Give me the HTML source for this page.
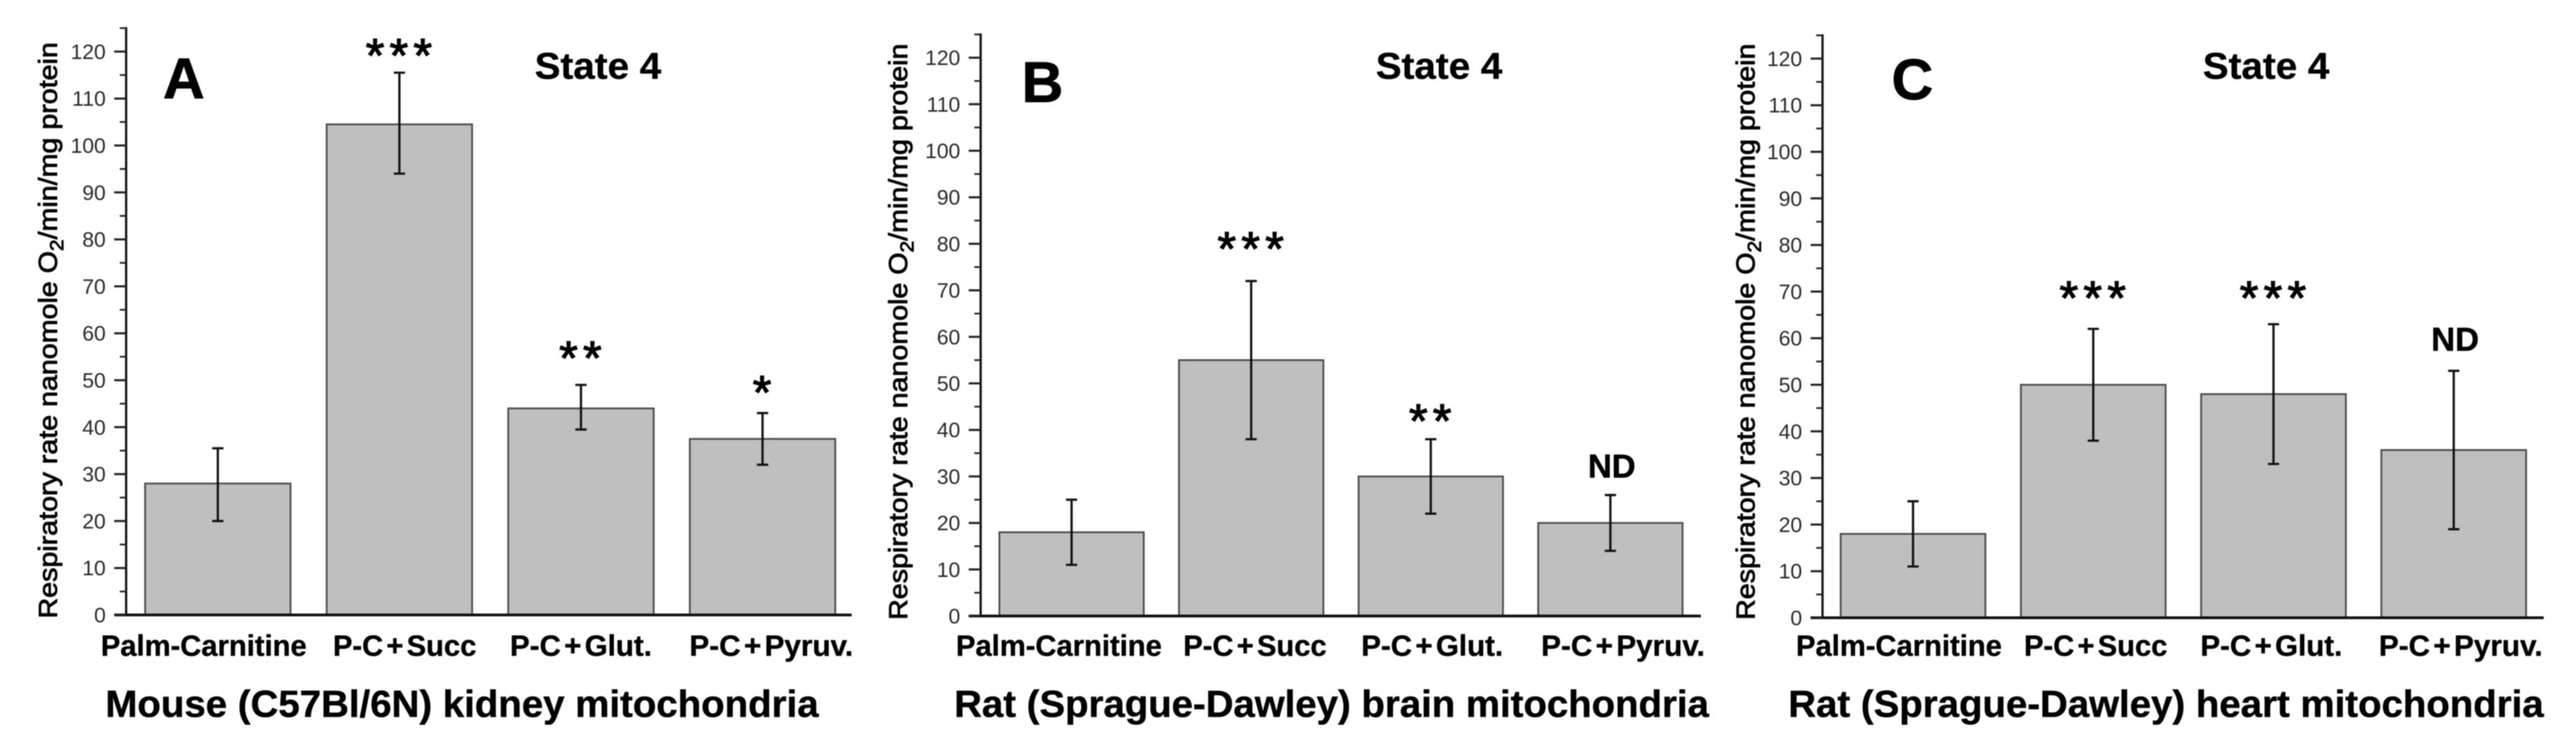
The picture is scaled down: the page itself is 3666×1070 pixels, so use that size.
<!DOCTYPE html>
<html>
<head>
<meta charset="utf-8">
<title>State 4 respiration</title>
<style>
html,body{margin:0;padding:0;background:#fff;width:3666px;height:1070px;overflow:hidden}
svg{display:block;filter:blur(0.8px)}
text{font-family:"Liberation Sans",sans-serif;fill:#000}
</style>
</head>
<body>
<svg id="chart" xmlns="http://www.w3.org/2000/svg" width="3666" height="1070" viewBox="0 0 3666 1070">
<rect width="3666" height="1070" fill="#fff"/>
</svg>
<script>
const categories = ['Palm-Carnitine', 'P-C + Succ', 'P-C + Glut.', 'P-C + Pyruv.'];
const yTickValues = [0, 10, 20, 30, 40, 50, 60, 70, 80, 90, 100, 110, 120];
const yMinorTickValues = [5, 15, 25, 35, 45, 55, 65, 75, 85, 95, 105, 115, 125];

const kidneyValues = [28, 104.5, 44, 37.5];
const kidneyErrLow = [20, 94, 39.5, 32];
const kidneyErrHigh = [35.5, 115.5, 49, 43];
const kidneySigLabels = ['', '***', '**', '*'];
const kidneySigLevels = [null, 120.5, 56.1, 48.7];

const brainValues = [18, 55, 30, 20];
const brainErrLow = [11, 38, 22, 14];
const brainErrHigh = [25, 72, 38, 26];
const brainSigLabels = ['', '***', '**', 'ND'];
const brainSigLevels = [null, 80.3, 43.3, 32.3];

const heartValues = [18, 50, 48, 36];
const heartErrLow = [11, 38, 33, 19];
const heartErrHigh = [25, 62, 63, 53];
const heartSigLabels = ['', '***', '***', 'ND'];
const heartSigLevels = [null, 70, 70, 59.9];

const NS = 'http://www.w3.org/2000/svg';
const svg = document.getElementById('chart');

function make(parent, tag, attrs, txt) {
  const el = document.createElementNS(NS, tag);
  for (const k in attrs) el.setAttribute(k, attrs[k]);
  if (txt !== undefined) el.textContent = txt;
  parent.appendChild(el);
  return el;
}

const catWidth = {'Palm-Carnitine': 293, 'P-C + Succ': 204, 'P-C + Glut.': 202, 'P-C + Pyruv.': 233};

function drawPanel(p, values, errLow, errHigh, sigLabels, sigLevels) {
  const g = make(svg, 'g', {});
  
  

  const yScale = v => p.zeroY - v * p.unit;
  const xScale = i => p.x0 + i * p.step;

  // bars
  values.forEach((v, i) => {
    const bar = make(g, 'rect', {x: xScale(i) - p.barW / 2, y: yScale(v), width: p.barW, height: p.zeroY - yScale(v), fill: '#bfbfbf', stroke: '#4a4a4a', 'stroke-width': 2.5});
    
    
  });

  // axes
  const yAxis = make(g, 'line', {x1: p.axisX, x2: p.axisX, y1: yScale(125) - 1.5, y2: p.zeroY, stroke: '#111', 'stroke-width': 3.2});
  
  
  const xAxis = make(g, 'line', {x1: p.axisX - 17, x2: p.axisEnd, y1: p.zeroY, y2: p.zeroY, stroke: '#111', 'stroke-width': 4});
  
  

  yTickValues.forEach(v => {
    const t = make(g, 'line', {x1: p.axisX - 17, x2: p.axisX, y1: yScale(v), y2: yScale(v), stroke: '#222', 'stroke-width': 3});
    
    
    const l = make(g, 'text', {x: p.axisX - 29, y: yScale(v) + 10.5, 'text-anchor': 'end', 'font-size': 30, style: 'fill:#2a2a2a'}, String(v));
    
    
  });
  yMinorTickValues.forEach(v => {
    const t = make(g, 'line', {x1: p.axisX - 9, x2: p.axisX, y1: yScale(v), y2: yScale(v), stroke: '#222', 'stroke-width': 2.5});
    
    
  });

  // error bars
  values.forEach((v, i) => {
    const x = xScale(i), hi = yScale(errHigh[i]), lo = yScale(errLow[i]);
    const eb = make(g, 'path', {d: 'M' + (x - 8) + ' ' + hi + 'H' + (x + 8) + 'M' + x + ' ' + hi + 'V' + lo + 'M' + (x - 8) + ' ' + lo + 'H' + (x + 8), fill: 'none', stroke: '#111', 'stroke-width': 3.2});
    
    
  });

  // significance labels
  sigLabels.forEach((s, i) => {
    if (!s) return;
    const y = yScale(sigLevels[i]);
    let t;
    if (s === 'ND') {
      t = make(g, 'text', {x: xScale(i) + 2, y: y + 17, 'text-anchor': 'middle', 'font-size': 47, 'font-weight': 'bold', stroke: '#000', 'stroke-width': 0.6}, s);
    } else {
      t = make(g, 'text', {x: xScale(i) + 3, y: y + 32, 'text-anchor': 'middle', 'font-size': 68, 'letter-spacing': 7.5, stroke: '#000', 'stroke-width': 1.6}, s);
    }
    
    
  });

  // category labels
  categories.forEach((c, i) => {
    const t = make(g, 'text', {x: xScale(i) + p.labelShift[c], y: 933, 'text-anchor': 'middle', 'font-size': 42, 'font-weight': 'bold', 'word-spacing': -7, stroke: '#000', 'stroke-width': 0.5, textLength: catWidth[c], lengthAdjust: 'spacingAndGlyphs'}, c);
    
    
  });

  // y axis title
  const yt = make(g, 'text', {transform: 'translate(' + p.titleX + ',' + p.titleBottom + ') rotate(-90)', 'font-size': 37, 'stroke': '#000', 'stroke-width': 1, textLength: 820, lengthAdjust: 'spacingAndGlyphs'});
  
  
  yt.appendChild(document.createTextNode('Respiratory rate nanomole O'));
  make(yt, 'tspan', {dy: 9, 'font-size': 27}, '2');
  make(yt, 'tspan', {dy: -9}, '/min/mg protein');

  // state title
  const st = make(g, 'text', {x: p.stateX, y: 112, 'font-size': 53, 'font-weight': 'bold', stroke: '#000', 'stroke-width': 0.5, textLength: 180, lengthAdjust: 'spacingAndGlyphs'}, 'State 4');
  
  

  // panel letter
  const pl = make(g, 'text', {x: p.letterX, y: p.letterY, 'font-size': 82, 'font-weight': 'bold', stroke: '#000', 'stroke-width': 1}, p.letter);
  
  

  // x axis title
  const xt = make(g, 'text', {x: p.xTitleX, y: 1020, 'font-size': 54, 'font-weight': 'bold', stroke: '#000', 'stroke-width': 0.6, textLength: p.xTitleW, lengthAdjust: 'spacingAndGlyphs'}, p.xTitle);
  
  
}

drawPanel({
  id: 'a', letter: 'A', letterX: 232, letterY: 140,
  axisX: 179.5, axisEnd: 1212, zeroY: 875, unit: 6.68,
  x0: 310, step: 258.4, barW: 207,
  labelShift: {'Palm-Carnitine': -20, 'P-C + Succ': 7.5, 'P-C + Glut.': 0, 'P-C + Pyruv.': 12.5},
  titleX: 81, titleBottom: 880, stateX: 761,
  xTitle: 'Mouse (C57Bl/6N) kidney mitochondria', xTitleX: 150, xTitleW: 1015
}, kidneyValues, kidneyErrLow, kidneyErrHigh, kidneySigLabels, kidneySigLevels);

drawPanel({
  id: 'b', letter: 'B', letterX: 1454, letterY: 145,
  axisX: 1395.6, axisEnd: 2420.5, zeroY: 876.5, unit: 6.62,
  x0: 1525, step: 255.6, barW: 205.5,
  labelShift: {'Palm-Carnitine': -18, 'P-C + Succ': 5.4, 'P-C + Glut.': 2, 'P-C + Pyruv.': 18},
  titleX: 1291, titleBottom: 882, stateX: 1958,
  xTitle: 'Rat (Sprague-Dawley) brain mitochondria', xTitleX: 1358, xTitleW: 1074
}, brainValues, brainErrLow, brainErrHigh, brainSigLabels, brainSigLevels);

drawPanel({
  id: 'c', letter: 'C', letterX: 2692, letterY: 141,
  axisX: 2593.7, axisEnd: 3620, zeroY: 879, unit: 6.63,
  x0: 2722.5, step: 256.5, barW: 206,
  labelShift: {'Palm-Carnitine': -20, 'P-C + Succ': 3.5, 'P-C + Glut.': -3, 'P-C + Pyruv.': 10},
  titleX: 2497, titleBottom: 882, stateX: 3135,
  xTitle: 'Rat (Sprague-Dawley) heart mitochondria', xTitleX: 2545, xTitleW: 1075
}, heartValues, heartErrLow, heartErrHigh, heartSigLabels, heartSigLevels);
</script>
</body>
</html>
